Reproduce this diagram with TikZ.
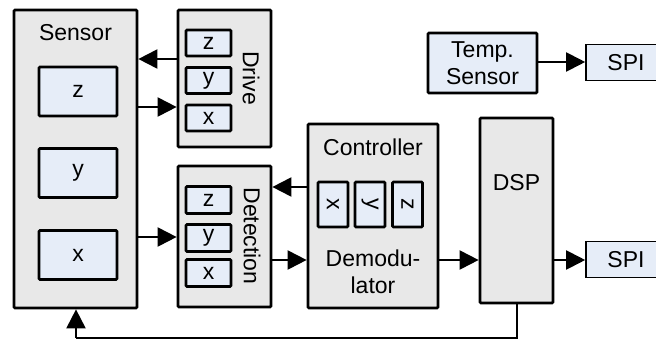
\documentclass[tikz,border=0pt]{standalone}
\usepackage{fontspec}
\setmainfont{Liberation Sans}
\usetikzlibrary{arrows.meta}
\definecolor{boxgray}{RGB}{232,232,232}
\definecolor{boxblue}{RGB}{230,237,248}
\tikzset{
  outer/.style={draw, line width=2.7pt, fill=boxgray, inner sep=0pt, rounded corners=1pt},
  inner/.style={draw, line width=2.7pt, fill=boxblue, inner sep=0pt, rounded corners=1pt},
  port/.style={draw, line width=1.6pt, fill=boxblue, inner sep=0pt},
  lbl/.style={inner sep=0pt},
  arr/.style={line width=2pt, -{Triangle[length=19pt,width=19pt]}},
  wire/.style={line width=2pt}
}
\begin{document}
\begin{tikzpicture}[x=1pt, y=-1pt, font=\fontsize{23}{26.5}\selectfont]
\clip (0,0) rectangle (656,340);
\fill[white] (0,0) rectangle (656,340);

% Sensor block with its three axes
\node[outer, minimum width=123, minimum height=298] (sensor) at (75.5,159) {};
\node[lbl] (sensorlbl) at (75.5,33) {Sensor};
\node[inner, minimum width=78, minimum height=49] (sz) at (78,91.5) {z};
\node[inner, minimum width=78, minimum height=49] (sy) at (78,173) {y};
\node[inner, minimum width=78, minimum height=49] (sx) at (78,255) {x};

% Drive block
\node[outer, minimum width=93, minimum height=137] (drive) at (224.5,78.5) {};
\node[lbl, rotate=-90] (drivelbl) at (251,78) {Drive};
\node[inner, minimum width=45, minimum height=26] (dz) at (208.5,43) {z};
\node[inner, minimum width=45, minimum height=26] (dy) at (208.5,80.5) {y};
\node[inner, minimum width=45, minimum height=26] (dx) at (208.5,118) {x};

% Detection block
\node[outer, minimum width=93, minimum height=141] (detect) at (224.5,236.5) {};
\node[lbl, rotate=-90] (detectlbl) at (252,236) {Detection};
\node[inner, minimum width=45, minimum height=27] (ez) at (208.5,200) {z};
\node[inner, minimum width=45, minimum height=27] (ey) at (208.5,238) {y};
\node[inner, minimum width=45, minimum height=27] (ex) at (208.5,273) {x};

% Controller / demodulator
\node[outer, minimum width=130, minimum height=184] (ctrl) at (373,216) {};
\node[lbl] (ctrllbl) at (373,147) {Controller};
\node[inner, minimum width=30, minimum height=45] (cx) at (333,204.5) {\rotatebox{-90}{x}};
\node[inner, minimum width=30, minimum height=45] (cy) at (370,204.5) {\rotatebox{-90}{y}};
\node[inner, minimum width=30, minimum height=45] (cz) at (407.5,204.5) {\rotatebox{-90}{z}};
\node[lbl, align=center] (demodlbl) at (373,272) {Demodu-\\lator};

% DSP
\node[outer, minimum width=73, minimum height=185] (dsp) at (516.5,210.5) {};
\node[lbl] (dsplbl) at (516.5,183) {DSP};

% Temperature sensor and SPI ports
\node[inner, minimum width=109, minimum height=60, align=center] (temp) at (482.5,63) {Temp.\\Sensor};
\node[port, minimum width=80, minimum height=36] (spi1) at (626,62.5) {SPI};
\node[port, minimum width=80, minimum height=36] (spi2) at (626,259.5) {SPI};

% Connections
\draw[arr] (drive.west |- 0,59) -- (sensor.east |- 0,59);
\draw[arr] (sensor.east |- 0,107) -- (drive.west |- 0,107);
\draw[arr] (sensor.east |- 0,237) -- (detect.west |- 0,237);
\draw[arr] (ctrl.west |- 0,187) -- (detect.east |- 0,187);
\draw[arr] (detect.east |- 0,260) -- (ctrl.west |- 0,260);
\draw[arr] (ctrl.east |- 0,260) -- (dsp.west |- 0,260);
\draw[arr] (dsp.east |- 0,260) -- (spi2.west |- 0,260);
\draw[arr] (temp.east |- 0,62) -- (spi1.west |- 0,62);

% Feedback from the DSP back to the sensor
\coordinate (fbr) at (517,338);
\coordinate (fbl) at (76,338);
\draw[wire] (dsp.south -| fbr) -- (fbr) -- (fbl);
\draw[arr] (fbl) -- (sensor.south -| fbl);
\end{tikzpicture}
\end{document}
